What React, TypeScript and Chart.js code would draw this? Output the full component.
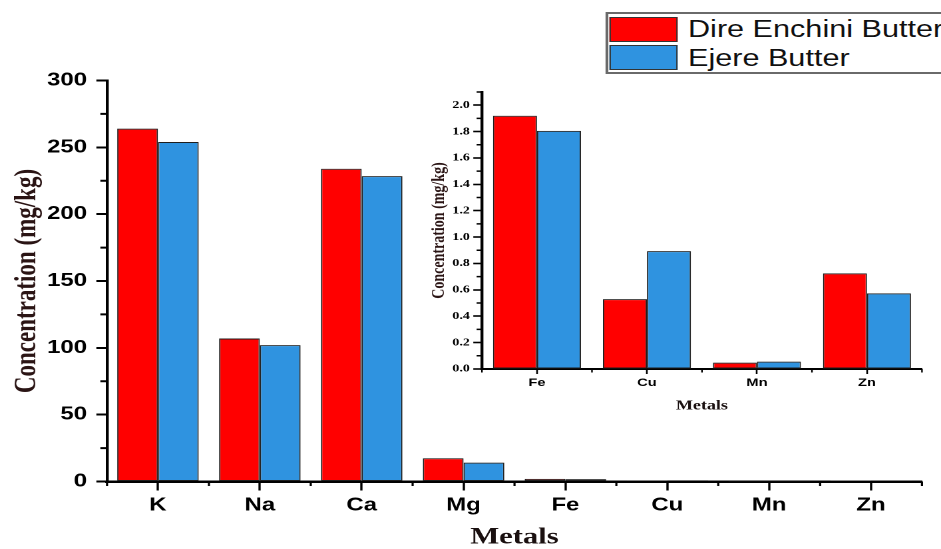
import React, { useEffect, useRef } from 'react';
import { Chart, registerables } from 'chart.js';

Chart.register(...registerables);

// ---------- data ----------
const categories = ['K', 'Na', 'Ca', 'Mg', 'Fe', 'Cu', 'Mn', 'Zn'];
const direEnchini = [264, 107, 234, 17.4, 1.92, 0.53, 0.05, 0.73];
const ejere = [254, 102, 228.5, 14.1, 1.8, 0.89, 0.06, 0.57];

const insetCategories = ['Fe', 'Cu', 'Mn', 'Zn'];
const insetDire = [1.92, 0.53, 0.048, 0.725];
const insetEjere = [1.805, 0.894, 0.056, 0.573];

const seriesNames = ['Dire Enchini Butter', 'Ejere Butter'];
const seriesColors = ['#ff0000', '#2f93e0'];

const mainYTicks = [0, 50, 100, 150, 200, 250, 300];
const insetYTicks = [0, 0.2, 0.4, 0.6, 0.8, 1.0, 1.2, 1.4, 1.6, 1.8, 2.0];

const xTitle = 'Metals';
const yTitle = 'Concentration (mg/kg)';

// ---------- layout (logical px, stretched horizontally by SX) ----------
const PAGE_W = 941;
const PAGE_H = 549;
const LW = 707;
const SX = PAGE_W / LW;

const SANS = "'Liberation Sans', Arial, sans-serif";
const SERIF = "'Liberation Serif', 'Times New Roman', serif";

const minorTickPlugin = {
  id: 'minorTicks',
  afterDraw(chart: any, _args: any, opts: any) {
    const ctx = chart.ctx;
    Object.keys(chart.scales).forEach((id) => {
      const s: any = chart.scales[id];
      const m = opts && opts[id];
      if (!m) return;
      const pos: number[] = [];
      if (s.type === 'category') {
        const n = s.getLabels().length;
        for (let i = 0; i <= n; i++) pos.push(s.getPixelForValue(i - 0.5));
      } else {
        const t = s.ticks.map((k: any) => k.value);
        for (let i = 0; i < t.length - 1; i++) pos.push(s.getPixelForValue((t[i] + t[i + 1]) / 2));
        const step = t[1] - t[0];
        const extra = t[t.length - 1] + step / 2;
        if (s.max >= extra - 1e-9) pos.push(s.getPixelForValue(extra));
      }
      ctx.save();
      ctx.strokeStyle = '#000';
      ctx.lineWidth = m.width;
      ctx.beginPath();
      pos.forEach((p) => {
        if (s.isHorizontal()) {
          ctx.moveTo(p, s.top);
          ctx.lineTo(p, s.top + m.length);
        } else {
          ctx.moveTo(s.right, p);
          ctx.lineTo(s.right - m.length, p);
        }
      });
      ctx.stroke();
      ctx.restore();
    });
  },
};

function makeDatasets(a: number[], b: number[]) {
  return [a, b].map((d, i) => ({
    label: seriesNames[i],
    data: d,
    backgroundColor: seriesColors[i],
    borderColor: '#1e1e1e',
    borderWidth: 1,
    borderSkipped: false as const,
    barPercentage: 1,
    categoryPercentage: 0.8,
  }));
}

export default function App() {
  const mainRef = useRef<HTMLCanvasElement | null>(null);
  const insetRef = useRef<HTMLCanvasElement | null>(null);

  useEffect(() => {
    if (!mainRef.current || !insetRef.current) return;

    const main = new Chart(mainRef.current, {
      type: 'bar',
      data: { labels: categories, datasets: makeDatasets(direEnchini, ejere) },
      plugins: [minorTickPlugin],
      options: {
        animation: false,
        responsive: false,
        devicePixelRatio: 2,
        layout: { padding: { left: 0, right: 14.3, top: 80.5, bottom: 0 } },
        plugins: {
          legend: { display: false },
          tooltip: { enabled: false },
          minorTicks: { x: { length: 4.5, width: 1.6 }, y: { length: 5, width: 2 } },
        } as any,
        scales: {
          x: {
            type: 'category',
            offset: true,
            grid: {
              display: true,
              drawOnChartArea: false,
              drawTicks: true,
              offset: false,
              tickLength: 9,
              tickWidth: 1.7,
              tickColor: '#000',
            },
            border: { display: true, color: '#000', width: 2.5 },
            ticks: {
              color: '#000',
              font: { family: SANS, weight: 'bold', size: 18 },
              padding: 4,
              autoSkip: false,
              maxRotation: 0,
            },
            title: {
              display: true,
              text: xTitle,
              color: '#1a1010',
              font: { family: SERIF, weight: 'bold', size: 23, lineHeight: 1 },
              padding: { top: 0, bottom: 0 },
            },
            afterFit: (s: any) => {
              s.height = 67.5;
            },
          },
          y: {
            type: 'linear',
            min: 0,
            max: 300,
            afterBuildTicks: (s: any) => {
              s.ticks = mainYTicks.map((v) => ({ value: v }));
            },
            grid: {
              display: true,
              drawOnChartArea: false,
              drawTicks: true,
              tickLength: 8,
              tickWidth: 2,
              tickColor: '#000',
            },
            border: { display: true, color: '#000', width: 2.2 },
            ticks: {
              color: '#000',
              font: { family: SANS, weight: 'bold', size: 18 },
              padding: 7,
            },
            title: {
              display: true,
              text: yTitle,
              color: '#2a1414',
              font: { family: SERIF, weight: 'bold', size: 23, lineHeight: 1.2 },
              padding: { top: 7, bottom: 0 },
            },
            afterFit: (s: any) => {
              s.width = 80.4;
            },
          },
        },
      } as any,
    });

    const inset = new Chart(insetRef.current, {
      type: 'bar',
      data: { labels: insetCategories, datasets: makeDatasets(insetDire, insetEjere) },
      plugins: [minorTickPlugin],
      options: {
        animation: false,
        responsive: false,
        devicePixelRatio: 2,
        layout: { padding: { left: 0, right: 14.3, top: 12, bottom: 0 } },
        plugins: {
          legend: { display: false },
          tooltip: { enabled: false },
          minorTicks: { x: { length: 3.5, width: 1.2 }, y: { length: 4, width: 1.5 } },
        } as any,
        scales: {
          x: {
            type: 'category',
            offset: true,
            grid: {
              display: true,
              drawOnChartArea: false,
              drawTicks: true,
              offset: false,
              tickLength: 5,
              tickWidth: 1.3,
              tickColor: '#000',
            },
            border: { display: true, color: '#000', width: 2 },
            ticks: {
              color: '#000',
              font: { family: SANS, weight: 'bold', size: 11 },
              padding: 2.4,
              autoSkip: false,
              maxRotation: 0,
            },
            title: {
              display: true,
              text: xTitle,
              color: '#1a1010',
              font: { family: SERIF, weight: 'bold', size: 13.5, lineHeight: 1 },
              padding: { top: 0, bottom: 17.2 },
            },
            afterFit: (s: any) => {
              s.height = 61;
            },
          },
          y: {
            type: 'linear',
            min: 0,
            max: 2.1,
            afterBuildTicks: (s: any) => {
              s.ticks = insetYTicks.map((v) => ({ value: v }));
            },
            grid: {
              display: true,
              drawOnChartArea: false,
              drawTicks: true,
              tickLength: 6.5,
              tickWidth: 1.6,
              tickColor: '#000',
            },
            border: { display: true, color: '#000', width: 2.2 },
            ticks: {
              color: '#000',
              font: { family: SERIF, weight: 'bold', size: 10.5 },
              padding: 2.6,
              callback: (v: any) => Number(v).toFixed(1),
            },
            title: {
              display: true,
              text: yTitle,
              color: '#2a1414',
              font: { family: SERIF, weight: 'bold', size: 14, lineHeight: 1.2 },
              padding: { top: 21.4, bottom: 0 },
            },
            afterFit: (s: any) => {
              s.width = 62.1;
            },
          },
        },
      } as any,
    });

    return () => {
      main.destroy();
      inset.destroy();
    };
  }, []);

  return (
    <div
      style={{
        position: 'fixed',
        left: 0,
        top: 0,
        width: PAGE_W,
        height: PAGE_H,
        overflow: 'hidden',
        background: '#fff',
      }}
    >
      <div
        style={{
          position: 'absolute',
          left: 0,
          top: 0,
          width: LW,
          height: PAGE_H,
          transform: `scaleX(${SX})`,
          transformOrigin: '0 0',
        }}
      >
        <canvas
          ref={mainRef}
          width={LW}
          height={PAGE_H}
          style={{ position: 'absolute', left: 0, top: 0 }}
        />
        <canvas
          ref={insetRef}
          width={407}
          height={350}
          style={{ position: 'absolute', left: 300, top: 80 }}
        />
        <div
          style={{
            position: 'absolute',
            left: 454.5,
            top: 12,
            width: 300,
            height: 62,
            boxSizing: 'border-box',
            border: '2px solid #6a6a6a',
            background: '#fff',
            fontFamily: SANS,
            fontSize: 23,
            color: '#111',
          }}
        >
          {seriesNames.map((name, i) => (
            <React.Fragment key={name}>
              <div
                style={{
                  position: 'absolute',
                  left: 1,
                  top: i === 0 ? 3 : 31,
                  width: 51.9,
                  height: 25,
                  boxSizing: 'border-box',
                  border: '1.5px solid #333',
                  background: seriesColors[i],
                }}
              />
              <div
                style={{
                  position: 'absolute',
                  left: 60.4,
                  top: i === 0 ? 2 : 31,
                  height: 26,
                  lineHeight: '26px',
                  whiteSpace: 'nowrap',
                }}
              >
                {name}
              </div>
            </React.Fragment>
          ))}
        </div>
      </div>
    </div>
  );
}
